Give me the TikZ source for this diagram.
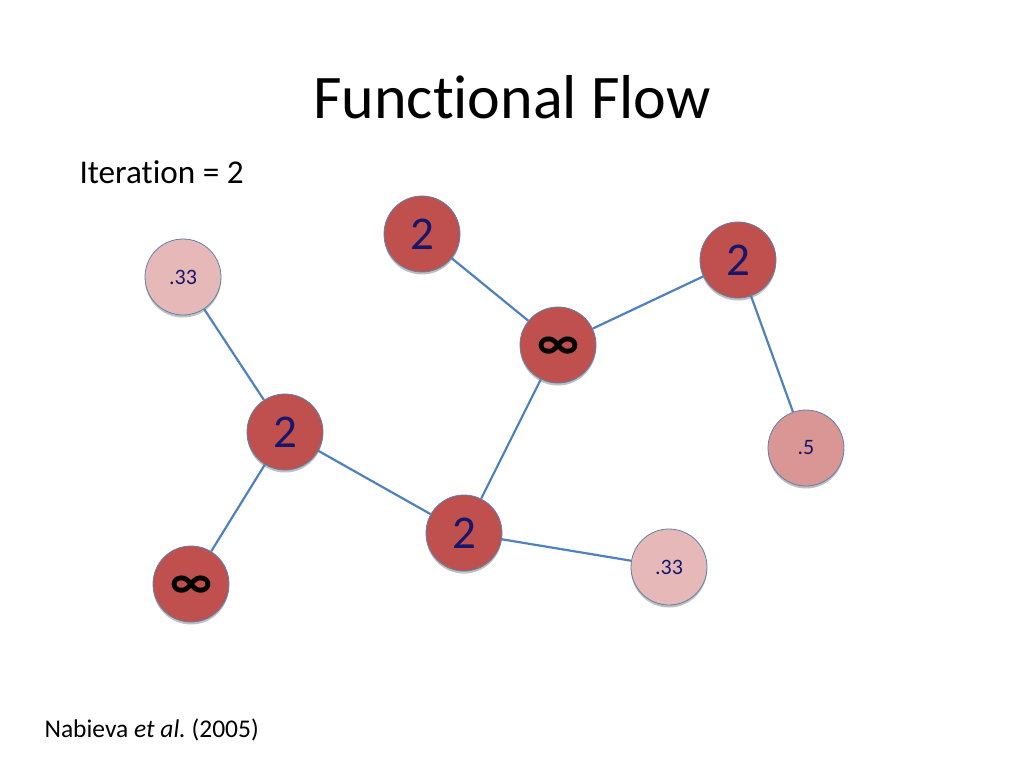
\documentclass[tikz,border=0pt]{standalone}
\usepackage{fontspec}
\setmainfont[Ligatures={NoCommon}]{Carlito}
\usetikzlibrary{shadows}
\definecolor{nred}{HTML}{C0504D}
\definecolor{npink}{HTML}{E6B9B8}
\definecolor{nmid}{HTML}{D99694}
\definecolor{nedge}{HTML}{4F81BD}
\definecolor{ntext}{HTML}{16166A}
\newcommand{\infsym}{\raisebox{-3.5pt}[\height][\depth]{∞}}
\tikzset{
  vnode/.style={circle, minimum size=76pt, inner sep=0pt, draw=nedge!70!gray, line width=0.8pt,
    drop shadow={shadow xshift=0pt, shadow yshift=-2.5pt, opacity=0.25, fill=black}},
  bignum/.style={vnode, fill=nred, text=ntext, font=\fontsize{47}{47}\selectfont},
  infnode/.style={vnode, fill=nred, text=black, font=\bfseries\fontsize{50}{50}\selectfont},
  smallnum/.style={vnode, text=ntext, font=\fontsize{22}{22}\selectfont},
  edge/.style={draw=nedge, line width=2.2pt},
}
\begin{document}
\begin{tikzpicture}[x=1pt,y=-1pt]
\useasboundingbox (0,0) rectangle (1024,768);
\node (title) at (512,97) {\fontsize{62}{62}\selectfont Functional Flow};
\node[anchor=west] (iter) at (76,172) {\fontsize{33.2}{33.2}\selectfont Iteration = 2};
\node[anchor=west] (cite) at (41,730) {\fontsize{25.5}{25.5}\selectfont Nabieva \textit{et al.}\ (2005)};

\node[smallnum, fill=npink] (a) at (183,277) {.33};
\node[bignum] (b) at (422,234) {2};
\node[bignum] (c) at (738,260) {2};
\node[infnode] (d) at (558,345) {\infsym};
\node[bignum] (e) at (285,432) {2};
\node[smallnum, fill=nmid] (f) at (806,448) {.5};
\node[bignum] (g) at (464,533) {2};
\node[smallnum, fill=npink] (h) at (669,567) {.33};
\node[infnode] (i) at (191,584) {\infsym};

\draw[edge] (a) -- (e);
\draw[edge] (b) -- (d);
\draw[edge] (d) -- (c);
\draw[edge] (c) -- (f);
\draw[edge] (d) -- (g);
\draw[edge] (e) -- (g);
\draw[edge] (e) -- (i);
\draw[edge] (g) -- (h);
\end{tikzpicture}
\end{document}
